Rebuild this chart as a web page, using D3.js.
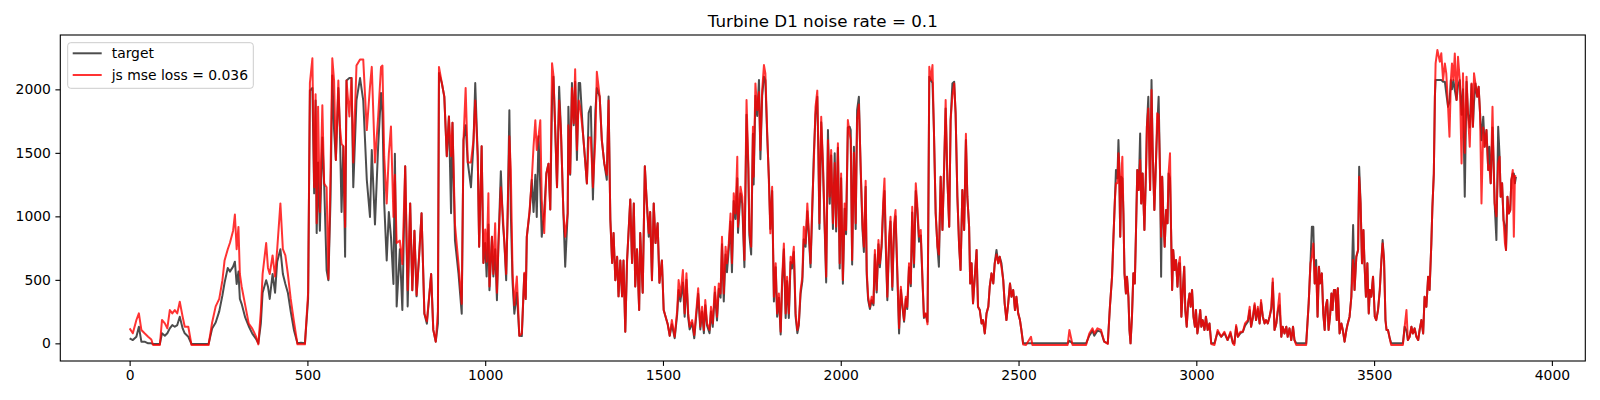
<!DOCTYPE html>
<html>
<head>
<meta charset="utf-8">
<script src="https://cdn.jsdelivr.net/npm/d3@7"></script>
<style>
  body { margin: 0; background: #fff; }
  svg text { font-family: "DejaVu Sans", sans-serif; }
</style>
</head>
<body>
<div id="chart"></div>
<script>
// values: [step, power]
const targetPts = [
  [0,39],[9,26],[19,52],[26,131],[33,13],[42,13],[52,0],[61,0],[66,-5],[85,-5],[91,79],[99,60],[106,79],[113,118],[120,144],[127,131],[134,144],[141,210],[149,118],[155,79],[165,52],[174,-5],[198,-5],[222,-5],
  [232,116],[242,164],[252,252],[261,379],[267,477],[276,594],[282,565],[291,604],[296,643],[301,467],[306,565],[310,350],[315,311],[325,204],[335,135],[345,77],[355,37],[362,0],
  [369,155],[374,399],[384,497],[389,448],[394,350],[402,546],[409,399],[415,643],[424,741],[431,546],[438,467],[445,399],[453,252],[462,106],[472,0],[482,5],[493,0],
  [502,350],[507,1991],[514,2011],[519,1181],[523,1913],[526,868],[530,1425],[535,887],[542,1620],[547,1259],[554,575],[559,497],[565,1132],[570,2109],[575,1679],[580,1444],
  [587,2011],[591,1718],[596,1034],[601,1552],[606,682],[610,2070],[618,2089],[624,2089],[629,1229],[638,1913],[648,2089],[657,1913],[667,1288],[676,995],[681,1523],[690,936],
  [699,1552],[707,1972],[711,1816],[716,1102],[723,653],[729,1034],[735,839],[742,467],[746,1493],[751,291],[760,741],[767,262],[775,1395],[782,291],[789,1102],[795,418],
  [801,887],[807,370],[814,682],[821,1024],[829,233],[836,155],[848,546],[854,106],[861,13],[867,155],[870,2128],[878,2050],[885,1943],[892,1474],[898,1786],[904,1024],
  [908,1737],[915,809],[925,546],[934,233],[939,1601],[945,1718],[951,1425],[960,1229],[967,1571],[972,2050],[979,1474],[983,760],[990,1552],[995,633],
  [1000,790],[1004,526],[1009,936],[1012,418],[1019,839],[1023,526],[1028,741],[1033,340],[1037,760],[1044,1356],[1050,936],[1054,790],[1059,497],[1063,995],[1068,1835],
  [1072,1034],[1077,477],[1082,233],[1089,399],[1096,60],[1103,57],[1110,546],[1114,350],[1117,839],[1125,1034],[1131,1288],[1136,1034],[1141,1327],[1145,995],[1150,1630],
  [1155,1229],[1159,839],[1166,1034],[1172,1337],[1178,1415],[1183,1054],[1188,1913],[1192,2099],[1197,1679],[1202,1229],[1208,2021],[1213,1679],[1220,1024],[1225,604],
  [1232,1024],[1234,1864],[1239,1327],[1244,2050],[1249,1718],[1253,2060],[1258,1444],[1263,2050],[1267,2050],[1275,1654],[1281,1444],[1286,1259],[1291,1816],[1297,1864],
  [1303,1132],[1310,1835],[1314,2011],[1322,1943],[1328,1601],[1335,1415],[1342,1288],[1347,1943],[1352,975],[1357,633],[1361,868],[1366,497],[1371,682],[1375,370],
  [1380,653],[1385,370],[1389,653],[1394,91],[1399,653],[1408,1132],[1413,633],[1418,1102],[1422,448],[1427,741],[1433,262],[1436,868],[1443,399],[1449,1395],[1453,1181],
  [1460,839],[1464,1034],[1469,497],[1474,1102],[1479,790],[1485,946],[1490,477],[1497,653],[1502,262],[1507,213],[1513,155],[1519,60],
  [1525,150],[1533,40],[1540,230],[1544,420],[1549,330],[1556,480],[1561,210],[1566,500],[1571,200],[1575,110],[1582,160],[1588,40],[1594,230],[1599,390],[1605,110],
  [1610,250],[1615,80],[1619,300],[1624,140],[1631,80],[1635,250],[1640,130],[1646,400],[1652,180],[1657,430],[1662,360],[1666,780],[1671,330],[1676,700],[1680,560],
  [1685,740],[1690,960],[1694,560],[1699,1120],[1704,980],[1709,1300],[1711,870],[1718,1180],[1723,1100],[1729,600],[1735,1800],[1740,1380],[1743,850],[1748,700],
  [1753,1650],[1755,1250],[1760,1950],[1765,1790],[1770,2073],[1774,1450],[1779,1950],[1784,2100],[1788,2073],[1793,1640],[1798,1300],[1802,900],[1807,1200],[1812,330],
  [1817,600],[1821,210],[1826,360],[1831,70],[1835,460],[1840,740],[1845,200],[1849,490],[1854,200],[1859,640],[1863,590],[1868,720],[1873,210],[1878,80],[1882,140],
  [1887,390],[1892,490],[1896,820],[1901,760],[1906,1040],[1910,860],[1915,600],[1920,1060],[1924,1470],[1929,1800],[1934,1942],[1937,1500],[1940,900],[1945,1740],
  [1950,1380],[1955,880],[1959,480],[1964,1680],[1969,1100],[1973,1480],[1978,900],[1983,1496],[1987,880],[1992,1540],[1997,590],[2001,1300],[2006,470],[2011,1060],
  [2015,860],[2020,1700],[2025,1706],
  [2028,1680],[2032,620],[2037,1548],[2042,900],[2046,1837],[2051,1942],[2056,1365],[2061,900],[2065,720],[2070,1233],[2073,540],[2077,340],[2082,270],[2087,340],[2092,300],
  [2096,700],[2101,400],[2106,780],[2110,600],[2115,760],[2120,1100],[2123,1200],[2127,720],[2131,340],[2136,800],[2140,960],[2145,420],[2150,900],[2154,1000],[2159,550],
  [2164,78],[2169,420],[2173,300],[2178,170],[2183,350],[2187,270],[2192,600],[2197,450],[2201,1030],[2206,600],[2211,1200],[2215,1060],[2220,800],[2225,850],[2230,480],
  [2234,200],[2239,230],[2244,170],[2246,850],[2249,2100],[2253,2073],[2258,2050],[2262,1680],[2267,1023],[2272,761],[2276,603],[2281,1312],[2286,892],[2291,1417],
  [2295,1850],[2300,1286],[2305,918],[2309,1758],[2314,2047],[2319,2060],[2323,1811],[2328,1155],[2333,761],[2337,577],[2342,1207],[2347,892],[2352,1601],[2356,1155],
  [2361,918],[2364,472],[2368,630],[2372,315],[2377,525],[2382,735],[2386,288],[2391,262],[2396,157],[2400,183],[2405,78],[2410,236],[2415,288],[2419,446],[2424,551],
  [2429,472],[2433,630],[2438,735],[2443,630],[2447,682],[2452,630],[2457,498],[2461,315],[2466,183],[2471,315],[2476,472],[2480,367],[2485,420],[2490,262],[2494,367],
  [2499,236],[2504,183],[2508,105],[2513,0],[2521,0],[2535,0],[2539,0],[2563,0],
  [2600,0],[2638,0],[2643,20],[2652,0],[2690,0],[2699,60],[2708,100],[2713,60],[2722,100],[2732,90],[2741,13],[2751,0],[2757,288],[2763,525],[2767,840],[2771,1128],
  [2774,1365],[2778,1300],[2781,1601],[2783,1417],[2786,840],[2789,1312],[2792,1300],[2795,1023],[2798,551],[2802,393],[2805,525],[2809,367],[2812,105],[2815,0],[2819,210],
  [2823,551],[2827,472],[2830,840],[2834,1365],[2838,1207],[2842,1653],[2845,1102],[2849,1338],[2854,892],[2859,1417],[2861,1706],[2865,1942],[2870,1207],[2874,2073],
  [2877,1548],[2882,1050],[2887,1470],[2890,1700],[2894,1942],[2898,1338],[2901,525],[2904,1312],[2907,1023],[2911,761],[2915,1050],[2919,945],[2922,1338],[2926,1300],
  [2929,892],[2932,420],[2935,735],[2939,577],[2943,656],[2947,446],[2951,630],[2954,630],[2958,210],[2962,420],[2966,603],[2969,262],[2973,131],[2977,315],[2981,393],
  [2984,288],[2988,420],[2992,210],[2996,131],[2999,262],[3003,78],[3007,157],[3011,262],[3014,131],[3018,183],[3023,105],[3027,210],[3032,105],[3037,157],[3042,0],
  [3051,0],[3060,90],[3070,52],[3079,80],[3088,26],[3096,80],[3103,0],[3107,0],[3112,130],[3117,52],[3124,80],[3131,91],[3137,140],[3145,170],[3150,260],[3154,131],
  [3159,200],[3164,300],[3168,183],[3173,270],[3178,157],[3182,320],[3187,210],[3192,157],[3196,183],[3201,157],[3206,210],[3211,270],[3215,480],[3220,105],[3225,157],
  [3229,250],[3234,300],[3239,52],[3243,131],[3248,78],[3253,131],[3257,52],[3262,118],[3267,26],[3272,131],[3276,26],[3281,0],[3309,0],[3316,315],[3321,630],[3325,918],
  [3329,918],[3333,472],[3337,656],[3341,210],[3345,603],[3348,472],[3353,551],[3357,236],[3361,105],[3364,288],[3368,341],[3372,105],[3376,210],[3380,393],[3383,262],
  [3387,420],[3391,420],[3395,183],[3398,433],[3403,78],[3408,157],[3412,105],[3417,13],[3422,105],[3426,157],[3431,210],[3436,367],[3441,931],[3445,420],[3450,682],
  [3455,735],[3458,1391],[3462,1102],[3466,630],[3470,892],[3473,630],[3477,367],[3481,630],[3485,236],[3488,420],[3492,367],[3497,525],[3502,210],[3506,183],[3511,262],
  [3516,420],[3520,630],[3524,813],[3528,656],[3532,183],[3535,105],[3539,105],[3544,39],[3548,0],[3581,0],[3586,131],[3591,100],[3595,26],[3600,52],[3605,131],
  [3609,78],[3614,118],[3619,52],[3624,26],[3628,105],[3633,183],[3638,78],[3642,367],[3647,288],[3652,525],[3656,420],[3661,787],[3664,1076],[3668,1338],[3671,1942],
  [3673,2073],[3678,2073],[3685,2073],[3689,2073],[3694,2060],[3699,2060],[3703,1968],[3708,1863],[3712,1900],[3716,2073],[3719,2000],[3723,2073],[3727,1994],[3732,1916],
  [3736,2030],[3741,2073],[3746,1800],[3750,2000],[3755,1155],[3760,2060],[3764,1811],[3769,1700],[3774,2040],[3778,1706],[3781,1900],[3785,2047],[3790,1942],[3794,2020],
  [3798,1811],[3802,1600],[3807,1785],[3811,1548],[3816,1680],[3821,1365],[3824,1548],[3828,1260],[3833,1700],[3837,1338],[3839,1102],[3844,813],[3849,1706],[3853,1470],
  [3856,1155],[3860,1260],[3864,971],[3868,920],[3871,735],[3875,1155],[3879,1023],[3883,1050],[3886,1286],[3890,1338],[3893,1338],[3896,1260],[3899,1312]
];

const predPts = [
  [0,118],[9,79],[19,184],[26,236],[33,105],[42,79],[52,52],[61,30],[66,-13],[85,-13],[91,184],[99,157],[106,118],[113,262],[120,236],[127,262],[134,236],[141,328],[149,210],[155,131],[165,131],[174,-13],[198,-13],[222,-13],
  [232,164],[242,291],[252,350],[261,497],[267,653],[276,741],[282,790],[291,887],[296,1014],[301,741],[306,917],[310,546],[315,448],[325,301],[335,155],[345,116],[355,57],[362,-8],
  [369,252],[374,546],[384,790],[389,594],[394,546],[402,692],[409,526],[415,741],[424,1102],[431,741],[438,692],[445,546],[453,350],[462,174],[472,-8],[482,-5],[493,-8],
  [502,399],[507,2050],[514,2245],[519,1229],[523,1962],[526,946],[530,1864],[535,1034],[542,1874],[547,1259],[554,1229],[559,506],[565,1337],[570,2245],[575,2070],[580,1444],
  [587,2070],[591,1718],[596,1571],[601,1552],[606,917],[610,2070],[618,1786],[624,2089],[629,1425],[638,2187],[648,2236],[657,2236],[667,1679],[676,2021],[681,2177],[690,1425],
  [699,1786],[707,2177],[711,2187],[716,1474],[723,1102],[729,1493],[735,1708],[742,995],[746,1327],[751,790],[760,809],[767,624],[775,1395],[782,418],[789,1102],[795,418],
  [801,887],[807,380],[814,682],[821,1024],[829,233],[836,174],[848,546],[854,106],[861,13],[867,252],[870,2177],[878,2050],[885,1943],[892,1474],[898,1786],[904,1474],
  [908,1737],[915,936],[925,624],[934,311],[939,1601],[945,2011],[951,1425],[960,1425],[967,1601],[972,1913],[979,1474],[983,760],[990,1552],[995,633],
  [1000,897],[1004,643],[1009,1181],[1012,448],[1019,839],[1023,546],[1028,946],[1033,399],[1037,760],[1044,1229],[1050,995],[1054,790],[1059,546],[1063,995],[1068,1630],
  [1072,1366],[1077,546],[1082,301],[1089,526],[1096,60],[1103,77],[1110,555],[1114,350],[1117,839],[1125,1054],[1131,1288],[1136,1552],[1141,1757],[1145,1523],[1150,1630],
  [1155,1757],[1159,1132],[1166,868],[1172,1337],[1178,1415],[1183,1054],[1188,2206],[1192,2109],[1197,1679],[1202,1229],[1208,1913],[1213,1679],[1220,1024],[1225,839],
  [1232,1024],[1234,1718],[1239,1337],[1244,2011],[1249,1733],[1253,2158],[1258,1523],[1263,1913],[1267,1864],[1275,1654],[1281,1444],[1286,1259],[1291,1620],[1297,1620],
  [1303,1229],[1310,1620],[1314,2138],[1322,1943],[1328,1601],[1335,1415],[1342,1327],[1347,1913],[1352,975],[1357,633],[1361,868],[1366,497],[1371,682],[1375,370],
  [1380,653],[1385,370],[1389,653],[1394,91],[1399,653],[1408,1132],[1413,633],[1418,1102],[1422,448],[1427,741],[1433,262],[1436,868],[1443,399],[1449,1395],[1453,1181],
  [1460,868],[1464,1034],[1469,497],[1474,1102],[1479,790],[1485,946],[1490,477],[1497,653],[1502,262],[1507,213],[1513,155],[1519,60],
  [1525,183],[1533,52],[1540,262],[1544,498],[1549,367],[1556,577],[1561,236],[1566,551],[1571,236],[1575,131],[1582,183],[1588,65],[1594,262],[1599,433],[1605,131],
  [1610,288],[1615,105],[1619,341],[1624,157],[1631,105],[1635,288],[1640,157],[1646,446],[1652,210],[1657,472],[1662,393],[1666,840],[1671,393],[1676,761],[1680,630],
  [1685,787],[1690,1023],[1694,630],[1699,1181],[1704,1023],[1709,1470],[1711,918],[1718,1233],[1723,1155],[1729,656],[1735,1916],[1740,1417],[1743,892],[1748,761],
  [1753,1706],[1755,1312],[1760,2047],[1765,1837],[1770,1980],[1774,1522],[1779,1994],[1784,2191],[1788,2126],[1793,1680],[1798,1260],[1802,866],[1807,1233],[1812,367],
  [1817,630],[1821,236],[1826,393],[1831,91],[1835,498],[1840,787],[1845,236],[1849,525],[1854,236],[1859,682],[1863,630],[1868,761],[1873,236],[1878,105],[1882,157],
  [1887,420],[1892,525],[1896,918],[1901,787],[1906,1102],[1910,892],[1915,630],[1920,1102],[1924,1400],[1929,1863],[1934,1990],[1937,1548],[1940,945],[1945,1785],
  [1950,1417],[1955,918],[1959,525],[1964,1600],[1969,1155],[1973,1522],[1978,945],[1983,1420],[1987,918],[1992,1575],[1997,630],[2001,1338],[2006,498],[2011,1102],
  [2015,892],[2020,1758],[2025,1650],
  [2028,1600],[2032,656],[2037,1500],[2042,945],[2046,1760],[2051,1880],[2056,1400],[2061,945],[2065,761],[2070,1280],[2073,577],[2077,367],[2082,288],[2087,367],[2092,315],
  [2096,735],[2101,420],[2106,813],[2110,630],[2115,787],[2120,1155],[2123,1299],[2127,761],[2131,367],[2136,840],[2140,997],[2145,446],[2150,945],[2154,1050],[2159,577],
  [2164,120],[2169,446],[2173,315],[2178,183],[2183,367],[2187,288],[2192,630],[2197,472],[2201,1076],[2206,630],[2211,1260],[2215,1102],[2220,840],[2225,892],[2230,498],
  [2234,210],[2239,236],[2244,150],[2246,892],[2249,2178],[2253,2073],[2258,2191],[2262,1680],[2267,1023],[2272,761],[2276,700],[2281,1312],[2286,892],[2291,1417],
  [2295,1916],[2300,1286],[2305,918],[2309,1758],[2314,1950],[2319,2047],[2323,1811],[2328,1155],[2333,761],[2337,577],[2342,1207],[2347,892],[2352,1650],[2356,1155],
  [2361,918],[2364,472],[2368,630],[2372,315],[2377,525],[2382,735],[2386,288],[2391,262],[2396,157],[2400,183],[2405,78],[2410,236],[2415,288],[2419,446],[2424,551],
  [2429,472],[2433,630],[2438,700],[2443,630],[2447,682],[2452,600],[2457,498],[2461,315],[2466,183],[2471,315],[2476,472],[2480,367],[2485,420],[2490,262],[2494,367],
  [2499,236],[2504,183],[2508,105],[2513,-10],[2521,-13],[2535,52],[2539,-13],[2563,-13],
  [2600,-13],[2638,-13],[2643,105],[2652,-13],[2690,-13],[2699,78],[2708,118],[2713,78],[2722,118],[2732,105],[2741,13],[2751,-5],[2757,288],[2763,525],[2767,840],[2771,1128],
  [2774,1260],[2778,1260],[2781,1496],[2783,1417],[2786,840],[2789,1312],[2792,1470],[2795,1023],[2798,551],[2802,393],[2805,525],[2809,367],[2812,105],[2815,0],[2819,210],
  [2823,551],[2827,472],[2830,840],[2834,1365],[2838,1207],[2842,1443],[2845,1102],[2849,1338],[2854,892],[2859,1417],[2861,1706],[2865,1850],[2870,1207],[2874,1994],
  [2877,1548],[2882,1050],[2887,1470],[2890,1811],[2894,1800],[2898,1338],[2901,840],[2904,1312],[2907,1023],[2911,761],[2915,1050],[2919,945],[2922,1338],[2926,1496],
  [2929,892],[2932,420],[2935,735],[2939,577],[2943,656],[2947,446],[2951,630],[2954,680],[2958,210],[2962,420],[2966,603],[2969,262],[2973,131],[2977,315],[2981,393],
  [2984,288],[2988,420],[2992,210],[2996,131],[2999,262],[3003,78],[3007,157],[3011,262],[3014,131],[3018,183],[3023,105],[3027,210],[3032,105],[3037,157],[3042,-5],
  [3051,-13],[3060,105],[3070,52],[3079,91],[3088,26],[3096,91],[3103,0],[3107,-13],[3112,144],[3117,52],[3124,91],[3131,91],[3137,157],[3145,183],[3150,288],[3154,131],
  [3159,210],[3164,315],[3168,183],[3173,288],[3178,157],[3182,341],[3187,210],[3192,157],[3196,183],[3201,157],[3206,210],[3211,288],[3215,511],[3220,105],[3225,157],
  [3229,262],[3234,393],[3239,52],[3243,131],[3248,78],[3253,131],[3257,52],[3262,118],[3267,26],[3272,131],[3276,26],[3281,-13],[3309,-13],[3316,315],[3321,630],[3325,682],
  [3329,787],[3333,472],[3337,600],[3341,210],[3345,603],[3348,472],[3353,551],[3357,236],[3361,105],[3364,288],[3368,341],[3372,105],[3376,210],[3380,393],[3383,262],
  [3387,420],[3391,420],[3395,183],[3398,433],[3403,78],[3408,157],[3412,105],[3417,13],[3422,105],[3426,157],[3431,210],[3436,367],[3441,656],[3445,420],[3450,682],
  [3455,735],[3458,1312],[3462,1102],[3466,630],[3470,892],[3473,630],[3477,367],[3481,630],[3485,236],[3488,420],[3492,367],[3497,525],[3502,210],[3506,183],[3511,262],
  [3516,420],[3520,630],[3524,787],[3528,656],[3532,183],[3535,105],[3539,105],[3544,39],[3548,-13],[3581,-13],[3586,131],[3591,262],[3595,26],[3600,52],[3605,131],
  [3609,78],[3614,118],[3619,52],[3624,26],[3628,105],[3633,183],[3638,78],[3642,367],[3647,288],[3652,525],[3656,420],[3661,787],[3664,1076],[3668,1338],[3671,1942],
  [3673,2204],[3678,2310],[3685,2218],[3689,2284],[3694,2073],[3699,2204],[3703,2126],[3708,1863],[3712,1627],[3716,2073],[3719,2204],[3723,2073],[3727,2283],[3732,1916],
  [3736,2257],[3741,2073],[3746,1417],[3750,2126],[3755,1500],[3760,2100],[3764,1811],[3769,1548],[3774,2047],[3778,1706],[3781,2126],[3785,2047],[3790,1942],[3794,2020],
  [3798,1811],[3802,1102],[3807,1700],[3811,1548],[3816,1680],[3821,1365],[3824,1400],[3828,1260],[3833,1863],[3837,1300],[3839,1102],[3844,1000],[3849,1417],[3853,1470],
  [3856,1155],[3860,1260],[3864,971],[3868,787],[3871,735],[3875,1155],[3879,1023],[3883,1050],[3886,1286],[3890,1365],[3893,840],[3896,1320],[3899,1312]
];

const xTicks = [0, 500, 1000, 1500, 2000, 2500, 3000, 3500, 4000];
const yTicks = [0, 500, 1000, 1500, 2000];
const chartTitle = "Turbine D1 noise rate = 0.1";
const seriesNames = ["target", "js mse loss = 0.036"];

const W = 1600, H = 400;
const margin = {top: 35, right: 14.7, bottom: 39, left: 60.3};

const svg = d3.select("#chart").append("svg")
    .attr("width", W)
    .attr("height", H);

const x = d3.scaleLinear()
    .domain([-195, 4094])
    .range([margin.left, W - margin.right]);

const y = d3.scaleLinear()
    .domain([-139, 2428])
    .range([H - margin.bottom, margin.top]);

svg.append("clipPath").attr("id", "plotclip")
  .append("rect")
    .attr("x", margin.left).attr("y", margin.top)
    .attr("width", W - margin.left - margin.right)
    .attr("height", H - margin.top - margin.bottom);

const line = d3.line()
    .x(d => x(d[0]))
    .y(d => y(d[1]));

const g = svg.append("g").attr("clip-path", "url(#plotclip)");

g.append("path")
    .datum(targetPts)
    .attr("fill", "none")
    .attr("stroke", "#000")
    .attr("stroke-opacity", 0.7)
    .attr("stroke-width", 2)
    .attr("stroke-linejoin", "round")
    .attr("d", line);

g.append("path")
    .datum(predPts)
    .attr("fill", "none")
    .attr("stroke", "#ff0000")
    .attr("stroke-opacity", 0.8)
    .attr("stroke-width", 2)
    .attr("stroke-linejoin", "round")
    .attr("d", line);

// axes
const fmt = d3.format("d");
const xAxis = d3.axisBottom(x).tickValues(xTicks).tickFormat(fmt).tickSize(4.9).tickPadding(4.5);
const yAxis = d3.axisLeft(y).tickValues(yTicks).tickFormat(fmt).tickSize(4.9).tickPadding(4.5);

svg.append("g")
    .attr("transform", `translate(0,${H - margin.bottom})`)
    .call(xAxis)
    .call(a => a.select(".domain").remove());

svg.append("g")
    .attr("transform", `translate(${margin.left},0)`)
    .call(yAxis)
    .call(a => a.select(".domain").remove());

svg.selectAll(".tick text")
    .attr("font-family", "DejaVu Sans, sans-serif")
    .attr("font-size", 13.9)
    .attr("fill", "#000");
svg.selectAll(".tick line").attr("stroke", "#000").attr("stroke-width", 1.1);

// frame
svg.append("rect")
    .attr("x", margin.left).attr("y", margin.top)
    .attr("width", W - margin.left - margin.right)
    .attr("height", H - margin.top - margin.bottom)
    .attr("fill", "none")
    .attr("stroke", "#000")
    .attr("stroke-width", 1.1);

// title
svg.append("text")
    .attr("x", (margin.left + W - margin.right) / 2)
    .attr("y", 26.5)
    .attr("text-anchor", "middle")
    .attr("font-size", 16.7)
    .attr("fill", "#000")
    .text(chartTitle);

// legend
const lg = svg.append("g");
lg.append("rect")
    .attr("x", 67.7).attr("y", 42.7)
    .attr("width", 185.6).attr("height", 45.6)
    .attr("rx", 3)
    .attr("fill", "#fff").attr("fill-opacity", 0.8)
    .attr("stroke", "#cccccc").attr("stroke-width", 1);

const legendColors = [["#000", 0.7], ["#ff0000", 0.8]];
seriesNames.forEach((name, i) => {
  const ly = 53.3 + i * 21.7;
  lg.append("line")
      .attr("x1", 72.7).attr("x2", 101.7)
      .attr("y1", ly).attr("y2", ly)
      .attr("stroke", legendColors[i][0])
      .attr("stroke-opacity", legendColors[i][1])
      .attr("stroke-width", 2);
  lg.append("text")
      .attr("x", 111.7).attr("y", ly + 5)
      .attr("font-size", 13.9)
      .attr("fill", "#000")
      .text(name);
});
</script>
</body>
</html>
